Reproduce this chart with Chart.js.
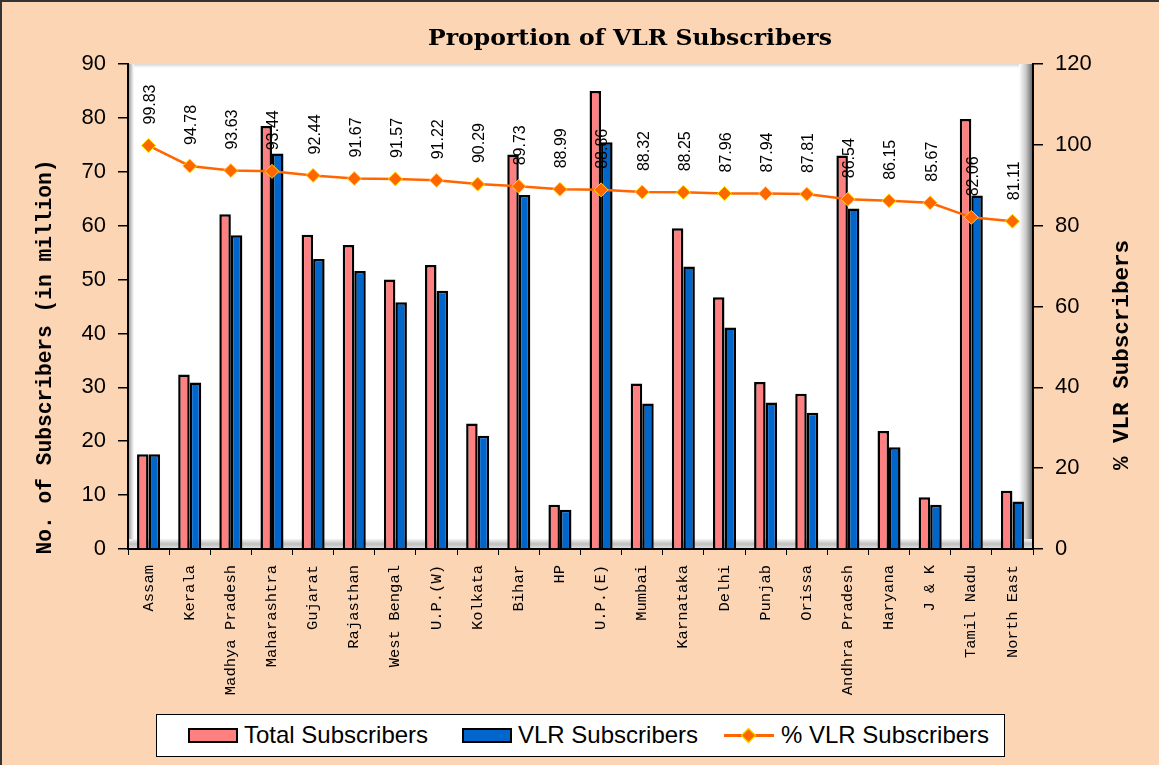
<!DOCTYPE html>
<html><head><meta charset="utf-8">
<script src="https://cdn.jsdelivr.net/npm/chart.js@4/dist/chart.umd.min.js"></script>
<style>
html,body{margin:0;padding:0;background:#FCD5B4;}
#wrap{position:relative;width:1159px;height:765px;overflow:hidden;background:#FCD5B4;}
#c{position:absolute;left:0;top:0;}
#legend{position:absolute;left:156px;top:714px;width:849px;height:43px;background:#fff;border:1.5px solid #000;box-sizing:border-box;font-family:"Liberation Sans",Arial,sans-serif;font-size:24px;color:#000;}
#legend .t{position:absolute;top:0;height:40px;line-height:40px;white-space:nowrap;}
#legend .sw{position:absolute;top:13px;width:50px;height:15px;border:2px solid #000;box-sizing:border-box;}
#legend .ln{position:absolute;top:19px;width:50px;height:3px;background:#FF6600;}
#legend .dm{position:absolute;top:15px;width:11px;height:11px;background:#FF6600;border:1px solid #FFE000;transform:rotate(45deg);box-sizing:border-box;}
</style></head>
<body>
<div id="wrap">
<canvas id="c" width="1159" height="765"></canvas>
<div id="legend">
  <div class="sw" style="left:31px;background:#FF8080"></div>
  <div class="t" style="left:87px">Total Subscribers</div>
  <div class="sw" style="left:305px;background:#0066CC"></div>
  <div class="t" style="left:361px">VLR Subscribers</div>
  <div class="ln" style="left:567px"></div>
  <div class="dm" style="left:586px"></div>
  <div class="t" style="left:624px">% VLR Subscribers</div>
</div>
</div>
<script>
const categories = ['Assam','Kerala','Madhya Pradesh','Maharashtra','Gujarat','Rajasthan','West Bengal','U.P.(W)','Kolkata','Bihar','HP','U.P.(E)','Mumbai','Karnataka','Delhi','Punjab','Orissa','Andhra Pradesh','Haryana','J & K','Tamil Nadu','North East'];
const totalSubscribers = [17.6,32.4,62.1,78.5,58.3,56.4,50.0,52.7,23.3,73.2,8.2,85.0,30.7,59.5,46.7,31.0,28.8,73.0,21.9,9.6,79.8,10.8];
const vlrSubscribers = [17.6,30.9,58.2,73.4,53.8,51.6,45.8,47.9,21.0,65.7,7.3,75.5,27.0,52.4,41.1,27.2,25.3,63.2,18.9,8.2,65.6,8.8];
const vlrPercent = [99.83,94.78,93.63,93.44,92.44,91.67,91.57,91.22,90.29,89.73,88.99,88.86,88.32,88.25,87.96,87.94,87.81,86.54,86.15,85.67,82.06,81.11];
const chartTitle = 'Proportion of VLR Subscribers';
const leftTitle = 'No. of Subscribers (in million)';
const rightTitle = '% VLR Subscribers';

const bgPlugin = {
  id:'bg',
  beforeDraw(chart){
    const {ctx, chartArea:a} = chart;
    ctx.save();
    ctx.fillStyle = '#FCD5B4';
    ctx.fillRect(0,0,chart.width,chart.height);
    ctx.fillStyle = '#fff';
    ctx.fillRect(a.left,a.top,a.right-a.left,a.bottom-a.top);
    let g = ctx.createLinearGradient(0,a.top,0,a.top+4);
    g.addColorStop(0,'#d8d8d8'); g.addColorStop(1,'#ffffff');
    ctx.fillStyle = g; ctx.fillRect(a.left,a.top,a.right-a.left,4);
    g = ctx.createLinearGradient(a.left,0,a.left+6,0);
    g.addColorStop(0,'#909090'); g.addColorStop(1,'#ffffff');
    ctx.fillStyle = g; ctx.fillRect(a.left,a.top,6,a.bottom-a.top);
    g = ctx.createLinearGradient(a.right-14,0,a.right,0);
    g.addColorStop(0,'#ffffff'); g.addColorStop(0.5,'#c8c8c8'); g.addColorStop(1,'#606060');
    ctx.fillStyle = g; ctx.fillRect(a.right-14,a.top,14,a.bottom-a.top);
    g = ctx.createLinearGradient(0,a.bottom-10,0,a.bottom);
    g.addColorStop(0,'#f4f4f4'); g.addColorStop(0.5,'#c0c0c0'); g.addColorStop(1,'#e4e4e4');
    ctx.fillStyle = g; ctx.fillRect(a.left,a.bottom-10,a.right-a.left,10);
    ctx.fillStyle = '#333';
    ctx.fillRect(0,0,chart.width,2);
    ctx.fillRect(0,0,2,chart.height);
    ctx.restore();
  }
};

function fitText(ctx, text, x, y, w, rot){
  ctx.save();
  ctx.translate(x,y);
  if(rot) ctx.rotate(rot);
  const m = ctx.measureText(text).width;
  ctx.scale(w/m,1);
  ctx.textAlign='center'; ctx.textBaseline='middle';
  ctx.fillText(text,0,0);
  ctx.restore();
}

const textPlugin = {
  id:'texts',
  afterDraw(chart){
    const ctx = chart.ctx;
    ctx.save();
    ctx.fillStyle = '#000';
    ctx.font = 'bold 23px "DejaVu Serif", serif';
    fitText(ctx, chartTitle, 630, 39, 404, 0);
    ctx.font = 'bold 22px "Liberation Mono", monospace';
    fitText(ctx, leftTitle, 45, 357, 395, -Math.PI/2);
    ctx.font = 'bold 22px "Liberation Mono", monospace';
    fitText(ctx, rightTitle, 1122, 355, 230, -Math.PI/2);
    ctx.restore();
  },
  afterDatasetsDraw(chart){
    const ctx = chart.ctx;
    const meta = chart.getDatasetMeta(2);
    const ds = chart.data.datasets[2];
    ctx.save();
    ctx.fillStyle = '#000';
    ctx.font = '16px "Liberation Sans", Arial, sans-serif';
    meta.data.forEach((pt,i)=>{
      ctx.save();
      ctx.translate(pt.x+2, pt.y-21);
      ctx.rotate(-Math.PI/2);
      ctx.textAlign='left'; ctx.textBaseline='middle';
      ctx.fillText(ds.data[i].toFixed(2),0,0);
      ctx.restore();
    });
    ctx.restore();
  }
};

new Chart(document.getElementById('c'), {
  type:'bar',
  data:{
    labels: categories,
    datasets:[
      {label:'Total Subscribers', data: totalSubscribers, backgroundColor:'#FF8080', borderColor:'#000', borderWidth:2.5, yAxisID:'y', order:2, categoryPercentage:0.56, barPercentage:1.0},
      {label:'VLR Subscribers', data: vlrSubscribers, backgroundColor:'#0066CC', borderColor:'#000', borderWidth:2.5, yAxisID:'y', order:2, categoryPercentage:0.56, barPercentage:1.0},
      {label:'% VLR Subscribers', type:'line', data: vlrPercent, yAxisID:'y1', order:0, borderColor:'#FF6600', borderWidth:2.5, backgroundColor:'#FF6600', pointStyle:'rectRot', pointRadius:7, pointBorderColor:'#FFE000', pointBorderWidth:1, pointBackgroundColor:'#FF6600', tension:0}
    ]
  },
  options:{
    responsive:false, animation:false, devicePixelRatio:1,
    layout:{padding:{top:64,left:0,right:0,bottom:0}},
    plugins:{legend:{display:false}, tooltip:{enabled:false}, title:{display:false}},
    scales:{
      x:{
        grid:{drawOnChartArea:false, drawTicks:true, tickLength:6, color:'#000', offset:true},
        border:{display:true, color:'#000', width:2},
        ticks:{font:{family:'"Liberation Mono", monospace', size:15.5}, color:'#000', minRotation:90, maxRotation:90, autoSkip:false, padding:10},
        afterFit(s){ s.height = 216; }
      },
      y:{
        position:'left', min:0, max:90,
        grid:{drawOnChartArea:false, drawTicks:true, tickLength:10, color:'#000', lineWidth:1.5},
        border:{display:true, color:'#000', width:2},
        ticks:{stepSize:10, font:{family:'"Liberation Sans", Arial, sans-serif', size:22}, color:'#000', padding:12},
        afterFit(s){ s.width = 128; }
      },
      y1:{
        position:'right', min:0, max:120,
        grid:{drawOnChartArea:false, drawTicks:true, tickLength:10, color:'#000', lineWidth:1.5},
        border:{display:true, color:'#000', width:2},
        ticks:{stepSize:20, font:{family:'"Liberation Sans", Arial, sans-serif', size:22}, color:'#000', padding:12},
        afterFit(s){ s.width = 126; }
      }
    }
  },
  plugins:[bgPlugin, textPlugin]
});
</script>
</body></html>
